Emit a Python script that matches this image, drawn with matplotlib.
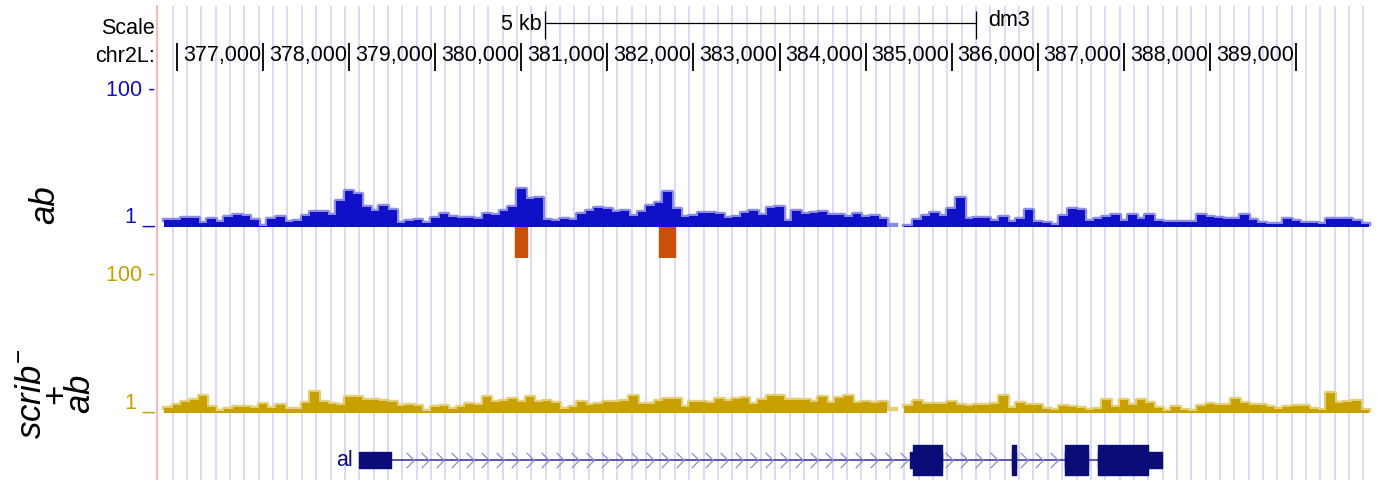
import numpy as np
import matplotlib.pyplot as plt
from matplotlib.path import Path
from matplotlib.lines import Line2D

plt.rcParams['font.family'] = ['Liberation Sans', 'DejaVu Sans']
plt.rcParams['mathtext.fontset'] = 'custom'
plt.rcParams['mathtext.rm'] = 'Liberation Sans'
plt.rcParams['mathtext.it'] = 'Liberation Sans:italic'

# browser window, dm3 chr2L
view_start, view_end = 375779, 389941
bin_start, bin_size = 375850, 100

# coverage, 100 bp bins (nan = no data)
ab_signal = [
    6.0, 6.0, 7.5, 7.5, 3.9, 6.8, 4.6, 8.2, 9.6, 8.9,
    6.0, 1.7, 6.8, 8.2, 4.6, 5.3, 8.9, 11.8, 11.8, 9.6,
    20.0, 27.0, 25.0, 15.4, 12.5, 16.1, 13.2, 3.9, 5.3, 6.0,
    3.9, 7.5, 10.4, 8.2, 7.5, 7.5, 6.8, 10.4, 9.6, 12.5,
    15.4, 28.0, 21.0, 22.0, 6.0, 5.3, 6.8, 6.0, 10.4, 12.5,
    14.7, 14.0, 11.8, 12.5, 8.9, 11.8, 16.1, 18.5, 26.0, 14.0,
    8.2, 8.9, 11.1, 11.1, 10.4, 7.5, 8.2, 11.1, 12.5, 9.6,
    14.7, 15.0, 5.3, 12.5, 10.4, 11.1, 11.8, 9.6, 9.6, 8.2,
    10.4, 8.2, 8.9, 6.8, 2.4, np.nan, 1.7, 6.0, 8.9, 11.1,
    8.9, 14.0, 22.0, 6.8, 7.5, 7.5, 5.3, 8.2, 4.6, 6.8,
    13.5, 4.6, 3.9, 2.4, 8.9, 14.0, 13.5, 5.3, 6.8, 8.2,
    9.6, 5.3, 9.6, 6.8, 9.6, 5.3, 4.6, 4.6, 4.6, 4.6,
    9.6, 8.2, 7.5, 6.8, 6.8, 9.6, 6.0, 3.9, 3.2, 3.2,
    6.8, 5.3, 3.9, 3.9, 3.2, 6.8, 6.8, 6.8, 5.3, 3.2,
]
scrib_ab_signal = [
    4.6, 6.8, 8.9, 10.4, 13.0, 5.3, 2.4, 3.9, 5.3, 5.3,
    4.6, 7.5, 4.6, 6.8, 3.9, 3.9, 8.2, 16.0, 8.9, 7.5,
    6.8, 12.5, 12.5, 10.4, 10.4, 9.6, 8.9, 6.0, 6.8, 6.0,
    2.4, 5.3, 6.0, 3.9, 5.3, 7.5, 6.8, 12.5, 8.9, 9.6,
    11.1, 8.9, 12.5, 8.9, 9.6, 8.2, 3.9, 5.3, 8.9, 6.8,
    7.5, 8.9, 8.9, 9.6, 13.0, 7.5, 7.5, 9.6, 11.0, 11.1,
    5.3, 8.9, 8.9, 8.2, 11.1, 9.6, 11.1, 12.0, 7.5, 10.4,
    13.5, 13.5, 10.4, 10.4, 10.4, 8.9, 12.5, 8.2, 11.8, 13.0,
    8.2, 8.9, 8.2, 8.9, 3.9, np.nan, 6.0, 9.6, 7.5, 7.5,
    7.5, 8.9, 6.8, 6.0, 6.8, 6.8, 7.5, 13.0, 4.6, 8.2,
    6.8, 6.8, 3.9, 3.2, 6.0, 5.3, 4.6, 3.2, 3.9, 10.0,
    5.3, 10.5, 6.8, 10.5, 8.2, 4.6, 2.4, 5.3, 3.2, 2.4,
    6.0, 7.5, 6.8, 6.8, 11.0, 8.2, 6.8, 6.8, 5.3, 3.9,
    5.3, 6.0, 6.0, 3.9, 3.2, 15.0, 8.2, 8.9, 9.5, 3.2,
]

# called peaks (ab track)
peak_starts = [379927, 381599]
peak_ends = [380066, 381785]

# gene model
gene_name = 'al'
tx_start, tx_end = 378114, 387443
cds_start, cds_end = 384550, 387280
exon_starts = [378114, 384515, 385700, 386316, 386699]
exon_ends = [378486, 384887, 385747, 386583, 387443]

ruler_ticks = list(range(376000, 390000, 1000))
scale_bar = (380278, 385278)

W, H = 1377, 481
fig = plt.figure(figsize=(W / 100, H / 100), dpi=100)

BLUE = '#1010c8'
BLUE_LT = '#8c8ce6'
GOLD = '#c8a000'
GOLD_LT = '#e2cf7a'
NAVY = '#0c0c78'


def px_axes(x0, y0, x1, y1):
    ax = fig.add_axes([x0 / W, 1 - y1 / H, (x1 - x0) / W, (y1 - y0) / H])
    ax.set_xlim(view_start, view_end)
    ax.patch.set_alpha(0)
    ax.axis('off')
    return ax


def ftext(x, y, s, **kw):
    fig.text(x / W, 1 - y / H, s, **kw)


# guidelines + red left border
bg = px_axes(158, 7, W, H)
for g in np.arange(375950, view_end, 1000 / 6):
    bg.axvline(g, color='#dadaf8', lw=1.4)
fig.add_artist(Line2D([157 / W, 157 / W], [0, 1 - 7 / H], color='#ffb4b4', lw=1.4))

# ruler
ru = px_axes(158, 0, W, 75)
ru.set_ylim(75, 0)
ru.vlines(ruler_ticks, 44, 72, color='k', lw=1.3)
for t in ruler_ticks[1:]:
    ru.text(t - 25, 56, f'{t:,}', ha='right', va='center', fontsize=15.5)
ru.plot(scale_bar, [24, 24], color='k', lw=0.9)
ru.vlines(scale_bar, 12, 40, color='k', lw=0.9)
ru.text(scale_bar[0] - 45, 25, '5 kb', ha='right', va='center', fontsize=15.5)
ru.text(scale_bar[1] + 150, 20, 'dm3', ha='left', va='center', fontsize=15.5)
ftext(155, 28, 'Scale', ha='right', va='center', fontsize=15.5)
ftext(155, 56, 'chr2L:', ha='right', va='center', fontsize=15.5)


def signal_track(y0, y1, values, dark, light):
    ax = px_axes(158, y0, W, y1)
    ax.set_ylim(1, 100)
    edges = bin_start + bin_size * np.arange(len(values) + 1)
    vals = np.append(values, values[-1])
    ax.step(edges, vals, where='post', color=light, lw=3.2, zorder=2)
    ax.fill_between(edges, 1, vals, step='post', color=dark, lw=0, zorder=3)
    tr = ax.get_yaxis_transform()
    ax.text(-0.0025, 100, '100 -', transform=tr, ha='right', va='center',
            fontsize=15.5, color=dark)
    ax.text(-0.0025, 1, '1 _', transform=tr, ha='right', va='bottom',
            fontsize=15.5, color=dark)
    return ax


signal_track(90, 228, ab_signal, BLUE, BLUE_LT)
signal_track(276, 414, scrib_ab_signal, GOLD, GOLD_LT)

# peaks
pk = px_axes(158, 228, W, 259)
pk.set_ylim(0, 1)
pk.broken_barh([(s, e - s) for s, e in zip(peak_starts, peak_ends)], (0, 1),
               color='#c85008')

# gene track
gn = px_axes(158, 440, W, 482)
gn.set_ylim(0, 1)
gn.plot([exon_ends[0], exon_starts[-1]], [0.5, 0.5], color='#3c3c9c', lw=1.2, zorder=2)
chevron = Path([(-0.5, 1), (0.5, 0), (-0.5, -1)],
               [Path.MOVETO, Path.LINETO, Path.LINETO])
arrows = np.arange(378532, exon_starts[-1], 174)
inside = np.zeros(len(arrows), bool)
for s, e in zip(exon_starts, exon_ends):
    inside |= (arrows > s - 60) & (arrows < e + 60)
gn.plot(arrows[~inside], np.full((~inside).sum(), 0.5), ls='none', marker=chevron,
        ms=11, mfc='none', mec='#8c8cd0', mew=0.9, zorder=2)
for s, e in zip(exon_starts, exon_ends):
    # UTR (thin) and CDS (thick) parts
    gn.broken_barh([(s, e - s)], (0.32, 0.36), color=NAVY, zorder=3)
    cs, ce = max(s, cds_start), min(e, cds_end)
    if ce > cs:
        gn.broken_barh([(cs, ce - cs)], (0.14, 0.72), color=NAVY, zorder=3)
gn.text(tx_start - 70, 0.5, gene_name, ha='right', va='center', fontsize=15.5, color=NAVY)

# track labels
ftext(45, 205, 'ab', rotation=90, style='italic', fontsize=25, ha='center', va='center')
ftext(56, 394, '$\\mathit{scrib}^{-}$\n+\n$\\mathit{ab}$', rotation=90, fontsize=25,
      ha='center', va='center', multialignment='center', linespacing=0.68)

fig.savefig('out.png', dpi=100)
